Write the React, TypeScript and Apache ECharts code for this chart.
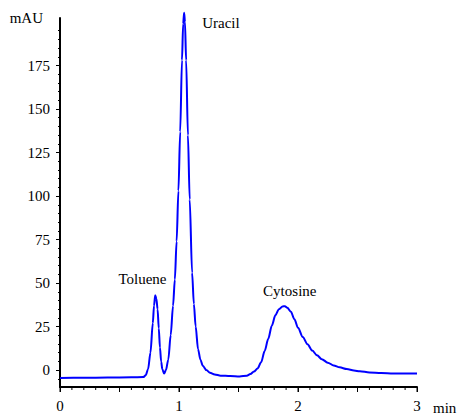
import React, { useEffect, useRef } from "react";
import * as echarts from "echarts";

// Retention time (min) and absorbance (mAU)
const times = [
  0, 0.2, 0.4, 0.6, 0.7, 0.72, 0.74, 0.76, 0.78, 0.79, 0.8, 0.81, 0.82, 0.83, 0.84, 0.85, 0.86,
  0.875, 0.89, 0.91, 0.93, 0.95, 0.965, 0.98, 0.995, 1.01, 1.025, 1.035, 1.043, 1.05, 1.06, 1.075, 1.09,
  1.11, 1.125, 1.14, 1.16, 1.18, 1.2, 1.23, 1.26, 1.3, 1.35, 1.43, 1.51, 1.57, 1.6, 1.63, 1.66,
  1.69, 1.72, 1.75, 1.78, 1.81, 1.84, 1.87, 1.89, 1.91, 1.94, 1.97, 2.0, 2.04, 2.08, 2.12, 2.16,
  2.2, 2.25, 2.3, 2.35, 2.41, 2.47, 2.52, 2.6, 2.7, 2.8, 2.9, 3.0,
];
const absorbance = [
  -4.5, -4.4, -4.3, -4.1, -4.0, -3.0, 0.5, 10, 27, 37, 43, 41, 35, 24, 13, 5, 0.5,
  -2.0, 0, 6, 20, 37, 52, 74, 103, 137, 178, 199, 205.3, 200, 178, 135, 98,
  56, 38, 25, 12, 6, 2.5, 0, -1.5, -2.5, -3.2, -3.4, -3.6, -3.2, -2.3, -0.8, 0.9,
  4.5, 11, 18, 25.5, 31.5, 35, 36.6, 36.7, 35.8, 33.5, 29.2, 24.3, 19, 14.8, 11.2, 8.5,
  6.3, 4.3, 2.7, 1.6, 0.6, -0.2, -0.7, -1.3, -1.7, -1.95, -2.0, -2.0,
];

const xLabelValues = [0, 1, 2, 3];
const xTickValues = [0, 0.5, 1, 1.5, 2, 2.5, 3];
const xMinorValues = Array.from({ length: 31 }, (_, i) => i / 10);
const yTickValues = [0, 25, 50, 75, 100, 125, 150, 175];
const yMinorValues = Array.from({ length: 41 }, (_, i) => -5 + i * 5);

const peakNames = ["Toluene", "Uracil", "Cytosine"];
const peakLabelX = [0.693, 1.352, 1.931];
const peakLabelY = [52.6, 199.7, 45.7];

const FONT = "Liberation Serif, DejaVu Serif, serif";

export default function App() {
  const ref = useRef<HTMLDivElement>(null);
  useEffect(() => {
    if (!ref.current) return;
    const chart = echarts.init(ref.current, undefined, { renderer: "svg" });
    const xMin = 0;
    const xMax = 3;
    const yMin = -9.7;
    const yMax = 202.3;
    chart.setOption({
      animation: false,
      backgroundColor: "#fff",
      textStyle: { fontFamily: FONT },
      grid: {
        left: 60,
        right: 42,
        top: 18,
        bottom: 28,
        containLabel: false,
        outerBoundsMode: "none",
      },
      graphic: [
        {
          type: "text",
          left: 433,
          top: 400,
          style: { text: "min", font: "15px " + FONT, fill: "#000" },
        },
      ],
      xAxis: {
        type: "value",
        position: "bottom",
        min: xMin,
        max: xMax,
        axisLine: { show: true, onZero: false, lineStyle: { color: "#000", width: 2 } },
        axisTick: { show: true, length: 5, customValues: xTickValues, lineStyle: { color: "#000", width: 1 } },
        splitLine: { show: false },
        axisLabel: {
          fontFamily: FONT,
          fontSize: 15,
          color: "#000",
          margin: 11,
          customValues: xLabelValues,
        },
      },
      yAxis: [
        {
          type: "value",
          min: yMin,
          max: yMax,
          name: "mAU",
          nameLocation: "end",
          nameGap: 0,
          nameTextStyle: {
            fontFamily: FONT,
            fontSize: 15,
            color: "#000",
            align: "right",
            verticalAlign: "middle",
            padding: [0, 17, 0, 0],
          },
          axisLine: { show: true, onZero: false, lineStyle: { color: "#000", width: 2 } },
          axisTick: { show: true, length: 4, customValues: yTickValues, lineStyle: { color: "#000", width: 1 } },
          splitLine: { show: false },
          axisLabel: {
            fontFamily: FONT,
            fontSize: 15,
            color: "#000",
            margin: 10,
            customValues: yTickValues,
          },
        },
        {
          type: "value",
          min: yMin,
          max: yMax,
          position: "left",
          axisLine: { show: false, onZero: false },
          axisTick: { show: true, length: 2, customValues: yMinorValues, lineStyle: { color: "#000", width: 1 } },
          axisLabel: { show: false },
          splitLine: { show: false },
        },
      ],
      series: [
        {
          type: "line",
          data: times.map((t, i) => [t, absorbance[i]]),
          showSymbol: false,
          smooth: 0.3,
          smoothMonotone: "x",
          clip: false,
          lineStyle: { color: "#0000ff", width: 2 },
          itemStyle: { color: "#0000ff" },
          markLine: {
            silent: true,
            symbol: "none",
            label: { show: false },
            lineStyle: { color: "#000", width: 2, type: "solid" },
            data: [{ yAxis: yMin }],
          },
          markPoint: {
            symbol: "circle",
            symbolSize: 0,
            silent: true,
            label: {
              show: true,
              position: "inside",
              fontFamily: FONT,
              fontSize: 15,
              color: "#000",
              formatter: (p: any) => p.name,
            },
            data: peakNames.map((n, i) => ({ name: n, coord: [peakLabelX[i], peakLabelY[i]] })),
          },
        },
        {
          // tick marks of the time axis, placed through the axis scales
          type: "custom",
          silent: true,
          clip: false,
          z: 10,
          data: xMinorValues.map((v) => [v, yMin]),
          encode: { x: 0, y: 1 },
          renderItem: (params: any, api: any) => {
            const v = api.value(0);
            const p = api.coord([v, api.value(1)]);
            const isMajor = Math.abs(v * 2 - Math.round(v * 2)) < 1e-6;
            const len = isMajor ? 5 : 3;
            return {
              type: "line",
              shape: { x1: p[0], y1: p[1], x2: p[0], y2: p[1] + len },
              style: { stroke: "#000", lineWidth: 1 },
            };
          },
        },
      ],
    });
    return () => chart.dispose();
  }, []);
  return <div ref={ref} style={{ position: "fixed", left: 0, top: 0, width: 459, height: 415 }} />;
}
